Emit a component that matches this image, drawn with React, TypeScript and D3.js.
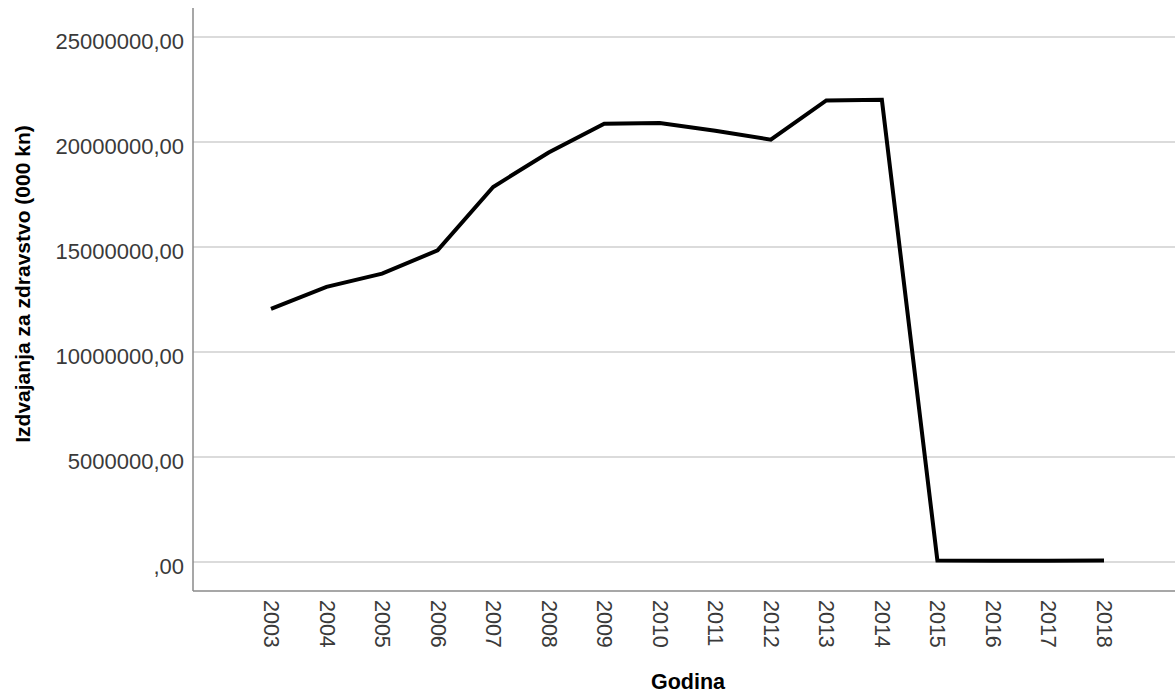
import React from "react";
import * as d3 from "d3";

const years = ["2003","2004","2005","2006","2007","2008","2009","2010","2011","2012","2013","2014","2015","2016","2017","2018"];
const values = [12050000, 13100000, 13730000, 14840000, 17860000, 19500000, 20870000, 20900000, 20540000, 20110000, 21980000, 22010000, 70000, 60000, 60000, 70000];
const yTicks = [0, 5000000, 10000000, 15000000, 20000000, 25000000];
const yTitle = "Izdvajanja za zdravstvo (000 kn)";
const xTitle = "Godina";

const W = 1175, H = 694;
const axisX = 193, axisTop = 8, axisBottom = 591;
const font = "'Liberation Sans', Arial, sans-serif";

function fmt(v: number) {
  if (v === 0) return ",00";
  return String(v) + ",00";
}

export default function App() {
  const x = d3.scalePoint<string>().domain(years).range([271, 1104]);
  const y = d3.scaleLinear().domain([0, 25000000]).range([562, 37]);
  const line = d3.line<number>().x((_, i) => x(years[i]) as number).y(d => y(d));
  return (
    <svg width={W} height={H} style={{ position: "absolute", left: 0, top: 0, background: "#fff" }}>
      {yTicks.map(t => (
        <line key={"g" + t} x1={axisX} x2={W} y1={y(t)} y2={y(t)} stroke="#cfcfcf" strokeWidth={1.5} />
      ))}
      <line x1={axisX} x2={axisX} y1={axisTop} y2={axisBottom} stroke="#8a8a8a" strokeWidth={1.5} />
      <line x1={axisX} x2={W} y1={axisBottom} y2={axisBottom} stroke="#8a8a8a" strokeWidth={1.5} />
      {yTicks.map(t => (
        <text key={"t" + t} x={184} y={y(t) + 12} textAnchor="end" fontFamily={font} fontSize={22} fill="#3a3a3a">{fmt(t)}</text>
      ))}
      {years.map(yr => (
        <text key={yr} transform={`translate(${x(yr)},600) rotate(90)`} dominantBaseline="central" fontFamily={font} fontSize={21.5} fill="#3a3a3a">{yr}</text>
      ))}
      <path d={line(values) || ""} fill="none" stroke="#000" strokeWidth={4} strokeLinejoin="miter" />
      <text transform={`translate(30,284) rotate(-90)`} textAnchor="middle" fontFamily={font} fontSize={21} fontWeight="bold" fill="#000">{yTitle}</text>
      <text x={688} y={689} textAnchor="middle" fontFamily={font} fontSize={21.5} fontWeight="bold" fill="#000">{xTitle}</text>
    </svg>
  );
}
